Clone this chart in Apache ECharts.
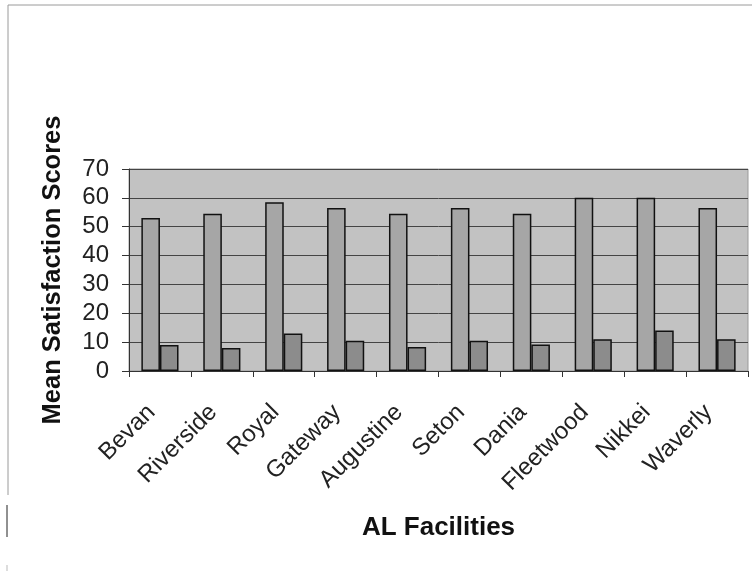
<!DOCTYPE html>
<html>
<head>
<meta charset="utf-8">
<script src="https://cdn.jsdelivr.net/npm/echarts@6/dist/echarts.min.js"></script>
<style>
html,body{margin:0;padding:0;background:#fff;}
#chart{width:752px;height:571px;}
</style>
</head>
<body>
<div id="chart"></div>
<script>
const categories = ['Bevan','Riverside','Royal','Gateway','Augustine','Seton','Dania','Fleetwood','Nikkei','Waverly'];
const seriesA = [53, 54.5, 58.5, 56.5, 54.5, 56.5, 54.5, 60, 60, 56.5];
const seriesB = [9, 8, 13, 10.5, 8.3, 10.5, 9.2, 11, 14, 11];
const yTicks = [0, 10, 20, 30, 40, 50, 60, 70];

const chart = echarts.init(document.getElementById('chart'), null, {renderer: 'canvas'});
const fontFamily = 'Liberation Sans, Arial, sans-serif';
chart.setOption({
  animation: false,
  backgroundColor: '#ffffff',
  graphic: [
    {type: 'line', shape: {x1: 8, y1: 5, x2: 752, y2: 5}, style: {stroke: '#9a9a9a', lineWidth: 1}},
    {type: 'line', shape: {x1: 8, y1: 5, x2: 8, y2: 495}, style: {stroke: '#9a9a9a', lineWidth: 1}},
    {type: 'line', shape: {x1: 7, y1: 505, x2: 7, y2: 537}, style: {stroke: '#222', lineWidth: 1}},
    {type: 'line', shape: {x1: 7, y1: 565, x2: 7, y2: 571}, style: {stroke: '#bbb', lineWidth: 1}}
  ],
  grid: {
    left: 129, right: 4, top: 169, bottom: 200,
    show: true, backgroundColor: '#c2c2c2', borderColor: '#9a9a9a', borderWidth: 1
  },
  xAxis: {
    type: 'category',
    data: categories,
    name: 'AL Facilities',
    nameLocation: 'middle',
    nameGap: 144,
    nameTextStyle: {fontFamily, fontSize: 26, fontWeight: 'bold', color: '#111'},
    axisLine: {lineStyle: {color: '#333', width: 1}},
    axisTick: {show: true, length: 6, lineStyle: {color: '#333'}},
    axisLabel: {rotate: 45, margin: 46, verticalAlign: 'bottom', fontFamily, fontSize: 24, color: '#222', interval: 0}
  },
  yAxis: {
    type: 'value',
    min: 0, max: 70, interval: 10,
    name: 'Mean Satisfaction Scores',
    nameLocation: 'middle',
    nameGap: 63,
    nameTextStyle: {fontFamily, fontSize: 25.5, fontWeight: 'bold', color: '#111'},
    axisLine: {show: true, lineStyle: {color: '#333', width: 1}},
    axisTick: {show: true, length: 7, lineStyle: {color: '#333'}},
    axisLabel: {margin: 20, fontFamily, fontSize: 24, color: '#222',
      formatter: v => yTicks.includes(v) ? String(v) : ''},
    splitLine: {show: true, lineStyle: {color: '#444', width: 1}}
  },
  series: [
    {type: 'bar', data: seriesA, barGap: '0%', barCategoryGap: '40%',
      itemStyle: {color: '#a6a6a6', borderColor: '#111', borderWidth: 1.5}},
    {type: 'bar', data: seriesB,
      itemStyle: {color: '#8c8c8c', borderColor: '#111', borderWidth: 1.5}}
  ]
});
</script>
</body>
</html>
